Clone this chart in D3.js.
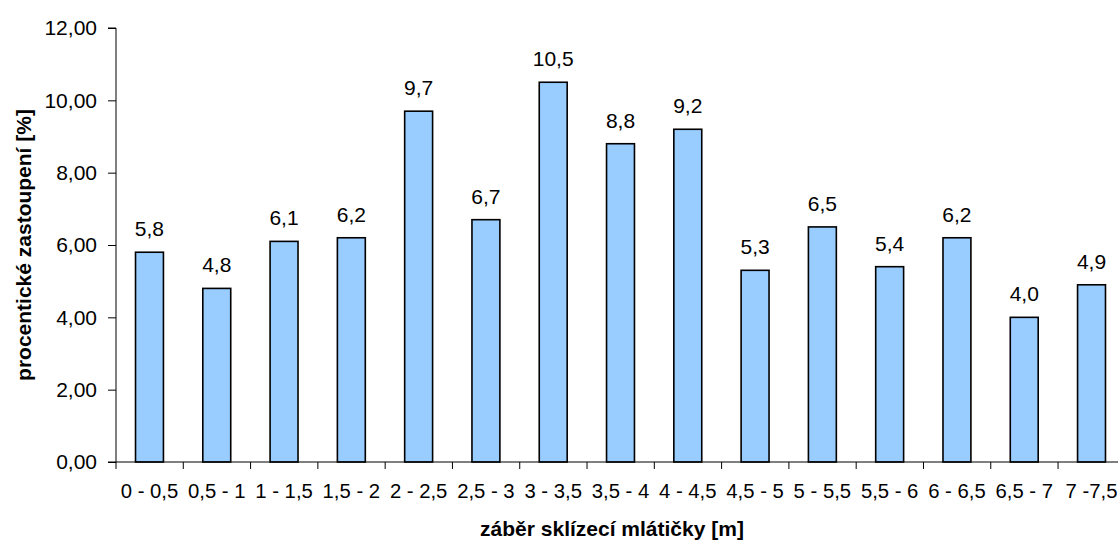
<!DOCTYPE html>
<html>
<head>
<meta charset="utf-8">
<script src="https://cdn.jsdelivr.net/npm/d3@7"></script>
<style>
  html, body { margin: 0; padding: 0; background: #fff; }
  svg { display: block; font-family: "Liberation Sans", Arial, sans-serif; }
</style>
</head>
<body>
<svg id="chart" width="1118" height="540"></svg>
<script>
// Working width classes of the combine header [m]
const categories = ["0 - 0,5", "0,5 - 1", "1 - 1,5", "1,5 - 2", "2 - 2,5", "2,5 - 3", "3 - 3,5",
  "3,5 - 4", "4 - 4,5", "4,5 - 5", "5 - 5,5", "5,5 - 6", "6 - 6,5", "6,5 - 7", "7 -7,5"];
// Percentage share of each class
const shares = [5.8, 4.8, 6.1, 6.2, 9.7, 6.7, 10.5, 8.8, 9.2, 5.3, 6.5, 5.4, 6.2, 4.0, 4.9];
const yTicks = [0, 2, 4, 6, 8, 10, 12];

const svg = d3.select("#chart");
const margin = { left: 116, top: 28, right: -7, bottom: 78 };
const W = 1118, H = 540;
const x0 = margin.left, x1 = W - margin.right;
const y0 = H - margin.bottom, y1 = margin.top;
const FS = 21;      // value labels and y tick labels
const FSX = 20.3;   // category labels

const fmtTick = d => d.toFixed(2).replace(".", ",");
const fmtVal = d => d.toFixed(1).replace(".", ",");

const x = d3.scaleBand().domain(categories).range([x0, x1]).paddingInner(0.585).paddingOuter(0.29);
const y = d3.scaleLinear().domain([0, 12]).range([y0, y1]);

// Bars
svg.append("g").selectAll("rect").data(shares).join("rect")
  .attr("x", (d, i) => x(categories[i]))
  .attr("y", d => y(d))
  .attr("width", x.bandwidth())
  .attr("height", d => y(0) - y(d))
  .attr("fill", "#99ccff")
  .attr("stroke", "#000")
  .attr("stroke-width", 1.6);

// Value labels
svg.append("g").selectAll("text").data(shares).join("text")
  .attr("x", (d, i) => x(categories[i]) + x.bandwidth() / 2)
  .attr("y", d => y(d) - 16)
  .attr("text-anchor", "middle")
  .attr("font-size", FS)
  .attr("fill", "#000")
  .text(fmtVal);

// Y axis
const yAxis = svg.append("g").attr("transform", `translate(${x0},0)`)
  .call(d3.axisLeft(y).tickValues(yTicks).tickFormat(fmtTick).tickSize(8).tickPadding(11));
yAxis.select(".domain").attr("d", `M-8,${y1}H0V${y0}H-8`);

// X axis with ticks on band boundaries
const xAxis = svg.append("g").attr("transform", `translate(0,${y0})`);
xAxis.append("line").attr("x1", x0).attr("x2", x1).attr("y1", 0).attr("y2", 0).attr("stroke", "#000");
const step = x.step();
const boundaries = d3.range(categories.length + 1).map(i => x0 + i * step);
xAxis.selectAll("line.tick").data(boundaries).join("line").attr("class", "tick")
  .attr("x1", d => d).attr("x2", d => d).attr("y1", 0).attr("y2", 7).attr("stroke", "#000");
xAxis.selectAll("text").data(categories).join("text")
  .attr("x", d => x(d) + x.bandwidth() / 2)
  .attr("y", 36)
  .attr("text-anchor", "middle")
  .attr("font-size", FSX)
  .text(d => d);

svg.selectAll(".tick text").attr("font-size", FS).attr("font-family", "Liberation Sans, Arial, sans-serif").attr("fill", "#000");
svg.selectAll(".tick line, .domain").attr("stroke", "#000");

// Axis titles
svg.append("text")
  .attr("x", 612).attr("y", 536)
  .attr("text-anchor", "middle")
  .attr("font-size", 21).attr("font-weight", "bold")
  .text("záběr sklízecí mlátičky [m]");

svg.append("text")
  .attr("transform", `translate(31,${(y0 + y1) / 2}) rotate(-90)`)
  .attr("text-anchor", "middle")
  .attr("font-size", 21).attr("font-weight", "bold")
  .text("procentické zastoupení [%]");
</script>
</body>
</html>
